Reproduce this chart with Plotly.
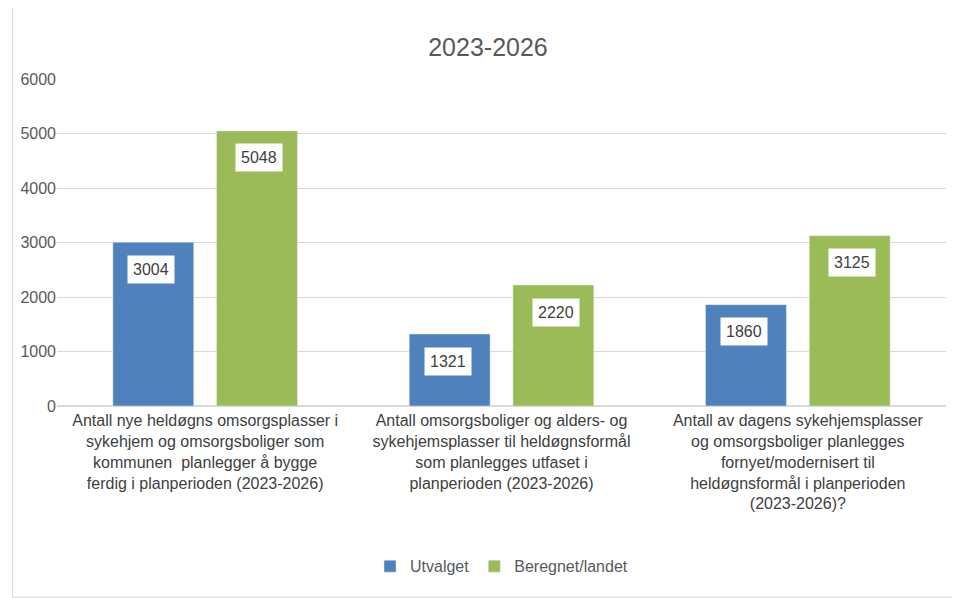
import plotly.graph_objects as go

categories = [
    "Antall nye heldøgns omsorgsplasser i<br>sykehjem og omsorgsboliger som<br>kommunen  planlegger å bygge<br>ferdig i planperioden (2023-2026)",
    "Antall omsorgsboliger og alders- og<br>sykehjemsplasser til heldøgnsformål<br>som planlegges utfaset i<br>planperioden (2023-2026)",
    "Antall av dagens sykehjemsplasser<br>og omsorgsboliger planlegges<br>fornyet/modernisert til<br>heldøgnsformål i planperioden<br>(2023-2026)?",
]
utvalget = [3004, 1321, 1860]
beregnet = [5048, 2220, 3125]

fig = go.Figure()
fig.add_trace(go.Bar(x=categories, y=utvalget, name="Utvalget", marker_color="#4F81BD"))
fig.add_trace(go.Bar(x=categories, y=beregnet, name="Beregnet/landet", marker_color="#9BBB59"))

# value labels in white boxes
for vals, shift in [(utvalget, -54), (beregnet, 54)]:
    for c, v in zip(categories, vals):
        fig.add_annotation(x=c, y=v, text=str(v), showarrow=False, xshift=shift, yshift=-27,
                           bgcolor="white", borderpad=5,
                           font=dict(size=16, color="#404040", family="Liberation Sans"))

# thin chart border
fig.add_shape(type="rect", xref="paper", yref="paper", x0=-0.05, x1=1.024, y0=-0.585, y1=1.235,
              line=dict(color="#D9D9D9", width=1))

fig.update_layout(
    title=dict(text="2023-2026", x=0.5, y=0.935, xanchor="center", yanchor="middle",
               font=dict(size=25, color="#595959", family="Liberation Sans")),
    width=960, height=598,
    margin=dict(l=45, r=22, t=71, b=200),
    paper_bgcolor="white", plot_bgcolor="white",
    barmode="group", bargap=0.3, bargroupgap=0.22,
    font=dict(family="Liberation Sans", color="#595959", size=15),
    legend=dict(orientation="h", x=0.5, xanchor="center", y=-0.49, yanchor="middle",
                font=dict(size=16, color="#595959")),
)
fig.update_yaxes(range=[0, 6000], dtick=1000, gridcolor="#D9D9D9", zeroline=True,
                 zerolinecolor="#D9D9D9", tickfont=dict(size=16))
fig.update_xaxes(showline=True, linecolor="#D9D9D9", tickfont=dict(size=16, color="#404040"))

fig.write_html("out.html")
